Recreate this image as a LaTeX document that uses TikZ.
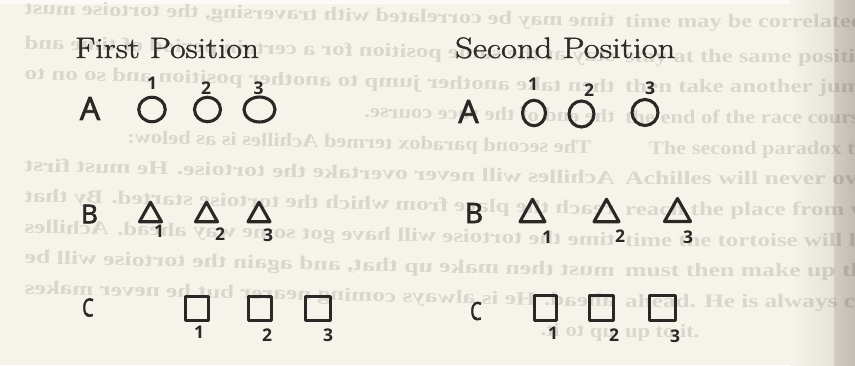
\documentclass[tikz,border=0pt]{standalone}
\usepackage{fontspec}
\newfontfamily\handfont{Open Sans}[FakeBold=2.5]
\newfontfamily\digitfont{Open Sans}
\newfontfamily\ghostfont{Liberation Serif}
\newfontfamily\titlefont{Latin Modern Roman}[FakeBold=1.2]
\usetikzlibrary{shapes.geometric}
\definecolor{paper}{HTML}{F6F4EA}
\definecolor{ink}{HTML}{2A2826}
\definecolor{titleink}{HTML}{2E2B28}
\definecolor{edgeA}{HTML}{E6E2D8}
\definecolor{edgeB}{HTML}{D2CCC2}
\definecolor{edgeC}{HTML}{C2BCB2}
\definecolor{topstrip}{HTML}{FBFAF6}
\newcommand\gj[2]{%
  \node[ghost] at (625,#1) {\resizebox{590pt}{\height}{#2}};
  \begin{scope}[shift={(620,0)}, xscale=-1, yslant=0.022]
    \node[ghost, transform shape] at (5,#1) {\resizebox{590pt}{\height}{#2}};
  \end{scope}}
\newcommand\gn[2]{%
  \node[ghost] at (625,#1) {\scalebox{1.18}[1]{#2}};
  \begin{scope}[shift={(620,0)}, xscale=-1, yslant=0.022]
    \node[ghost, transform shape] at (5,#1) {\scalebox{1.18}[1]{#2}};
  \end{scope}}
\newcommand\trishape[5]{%
  \coordinate (#1) at (#2,#3);
  \draw[shapeline] ({#2-#4/2},{#3+#5/2}) -- ({#2},{#3-#5/2}) -- ({#2+#4/2},{#3+#5/2}) -- cycle;}
\begin{document}
\begin{tikzpicture}[x=1pt,y=-1pt,
  shapeline/.style={draw=ink, line width=3.1pt, line join=round, line cap=round},
  roundshape/.style={shapeline, ellipse, inner sep=0pt, outer sep=0pt},
  boxshape/.style={shapeline, rectangle, inner sep=0pt, outer sep=0pt},
  title/.style={text=titleink, inner sep=0pt, anchor=base west, font=\titlefont\fontsize{29.5}{30}\selectfont},
  rowletter/.style={text=ink, inner sep=0pt, font=\handfont\fontsize{#1}{#1}\selectfont},
  digit/.style={text=ink, inner sep=0pt, font=\digitfont\bfseries\fontsize{17.5}{17.5}\selectfont},
  ghost/.style={inner sep=0pt, anchor=base west, text=black, text opacity=0.12, font=\ghostfont\bfseries\fontsize{19}{19}\selectfont},
]
\useasboundingbox (0,0) rectangle (855,365);
% paper
\fill[paper] (0,0) rectangle (855,365);
\fill[topstrip] (0,0) rectangle (855,4);
\shade[left color=paper, right color=edgeA] (790,0) rectangle (834,365);
\shade[left color=edgeB, right color=edgeC] (834,0) rectangle (855,365);
% show-through text of the next page (straight on the right, mirrored on the left)
\gj{27}{time may be correlated with traversing, the tortoise must}
\gj{62}{stay at the same position for a certain period of time and}
\gj{92.5}{then take another jump to another position and so on to}
\gn{123}{the end of the race course.}
\gn{154}{\hspace{20pt}The second paradox termed Achilles is as below:}
\gj{184.5}{Achilles will never overtake the tortoise. He must first}
\gj{215}{reach the place from which the tortoise started. By that}
\gj{246}{time the tortoise will have got some way ahead. Achilles}
\gj{276.5}{must then make up that, and again the tortoise will be}
\gj{307}{ahead. He is always coming nearer but he never makes}
\gn{337.5}{up to it.}
% titles
\node[title] (t1) at (75,58) {\scalebox{1.14}[1]{First Position}};
\node[title] (t2) at (455,58) {\scalebox{1.175}[1]{Second Position}};
% row letters
\node[rowletter=32] (A1) at (90,108.5) {A};
\node[rowletter=32] (A2) at (468.5,111.5) {A};
\node[rowletter=26] (B1) at (89.5,214) {B};
\node[rowletter=28] (B2) at (474,213) {B};
\node[rowletter=25] (C1) at (88,307.5) {\scalebox{0.72}[1]{C}};
\node[rowletter=25] (C2) at (476,311) {\scalebox{0.72}[1]{C}};
% row A: circles
\node[roundshape, minimum width=26.5pt, minimum height=24.5pt] (a11) at (152,109.5) {};
\node[roundshape, minimum width=26pt, minimum height=24.5pt] (a12) at (207.5,109.5) {};
\node[roundshape, minimum width=31pt, minimum height=25pt] (a13) at (259.5,109.5) {};
\node[roundshape, minimum width=23pt, minimum height=25.5pt] (a21) at (534,113) {};
\node[roundshape, minimum width=25pt, minimum height=26pt] (a22) at (581.5,114) {};
\node[roundshape, minimum width=26pt, minimum height=26pt] (a23) at (645,112.5) {};
\node[digit] (da11) at (152,83) {1};
\node[digit] (da12) at (206,88.5) {2};
\node[digit] (da13) at (258.5,88) {3};
\node[digit] (da21) at (533,84) {1};
\node[digit] (da22) at (589,90) {2};
\node[digit] (da23) at (650,88) {3};
% row B: triangles
\trishape{b11}{150.5}{212}{22}{19.5}
\trishape{b12}{206.5}{212}{22}{19.5}
\trishape{b13}{259}{212}{22}{19.5}
\trishape{b21}{532.5}{210.5}{25}{22.5}
\trishape{b22}{606.5}{210.5}{25}{22.5}
\trishape{b23}{677.5}{210}{26}{23}
\node[digit] (db11) at (159,231.5) {1};
\node[digit] (db12) at (220,234) {2};
\node[digit] (db13) at (268,235) {3};
\node[digit] (db21) at (547,237) {1};
\node[digit] (db22) at (620,236) {2};
\node[digit] (db23) at (688,237) {3};
% row C: squares
\node[boxshape, minimum width=23pt, minimum height=24.5pt] (c11) at (197,308.5) {};
\node[boxshape, minimum width=23.5pt, minimum height=24.5pt] (c12) at (260,308.5) {};
\node[boxshape, minimum width=25pt, minimum height=24.5pt] (c13) at (318,308.5) {};
\node[boxshape, minimum width=22pt, minimum height=25pt] (c21) at (545.5,308) {};
\node[boxshape, minimum width=23.5pt, minimum height=25pt] (c22) at (601.5,308) {};
\node[boxshape, minimum width=26pt, minimum height=25pt] (c23) at (662.5,308) {};
\node[digit] (dc11) at (199,332) {1};
\node[digit] (dc12) at (267,335) {2};
\node[digit] (dc13) at (328,335) {3};
\node[digit] (dc21) at (553,333) {1};
\node[digit] (dc22) at (614,335) {2};
\node[digit] (dc23) at (675,336) {3};
\end{tikzpicture}
\end{document}
